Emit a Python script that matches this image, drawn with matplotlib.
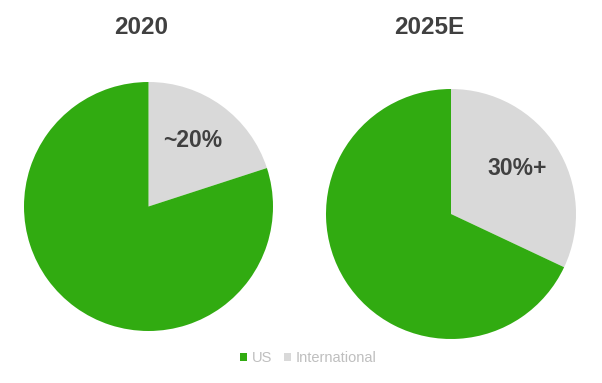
import numpy as np
import matplotlib
matplotlib.use("Agg")
import matplotlib.pyplot as plt
from matplotlib.patches import Patch

plt.rcParams['font.family'] = ['Liberation Sans', 'DejaVu Sans']

titles = ["2020", "2025E"]
categories = ["International", "US"]
international = [20, 32]
us = [80, 68]
labels = ["~20%", "30%+"]

colors = {"US": "#31ab11", "International": "#d9d9d9"}

W, H = 602, 383
fig = plt.figure(figsize=(W / 100, H / 100), dpi=100)

# pixel geometry (center x, center y from top, radius)
geom = [(148.5, 206.5, 124.5), (451.0, 214.0, 125.0)]
title_x = [141, 429]
title_y = 27

for i in range(2):
    cx, cy, r = geom[i]
    ax = fig.add_axes([(cx - r) / W, 1 - (cy + r) / H, 2 * r / W, 2 * r / H])
    vals = [international[i], us[i]]
    wedges, _ = ax.pie(vals, colors=[colors[c] for c in categories],
                       startangle=90, counterclock=False, radius=1,
                       wedgeprops=dict(linewidth=0))
    ax.set_xlim(-1, 1)
    ax.set_ylim(-1, 1)
    ax.set_aspect('auto')
    ax.axis('off')
    w = wedges[0]
    mid = np.deg2rad((w.theta1 + w.theta2) / 2 + 2.5)
    d = 0.64
    ax.text(d * np.cos(mid), d * np.sin(mid), labels[i], ha='center', va='center',
            fontsize=16.5, fontweight='bold', color='#404040')
    fig.text(title_x[i] / W, 1 - title_y / H, titles[i], ha='center', va='center',
             fontsize=17.5, fontweight='bold', color='#404040')

handles = [Patch(facecolor=colors["US"], edgecolor='none', label="US"),
           Patch(facecolor=colors["International"], edgecolor='none', label="International")]
leg = fig.legend(handles=handles, loc='center', bbox_to_anchor=(308 / W, 1 - 358 / H),
                 ncol=2, frameon=False, fontsize=10.5, handlelength=0.5, handleheight=0.5,
                 handletextpad=0.3, columnspacing=0.8, labelcolor='#bfbfbf')

fig.savefig("out.png", dpi=100)
